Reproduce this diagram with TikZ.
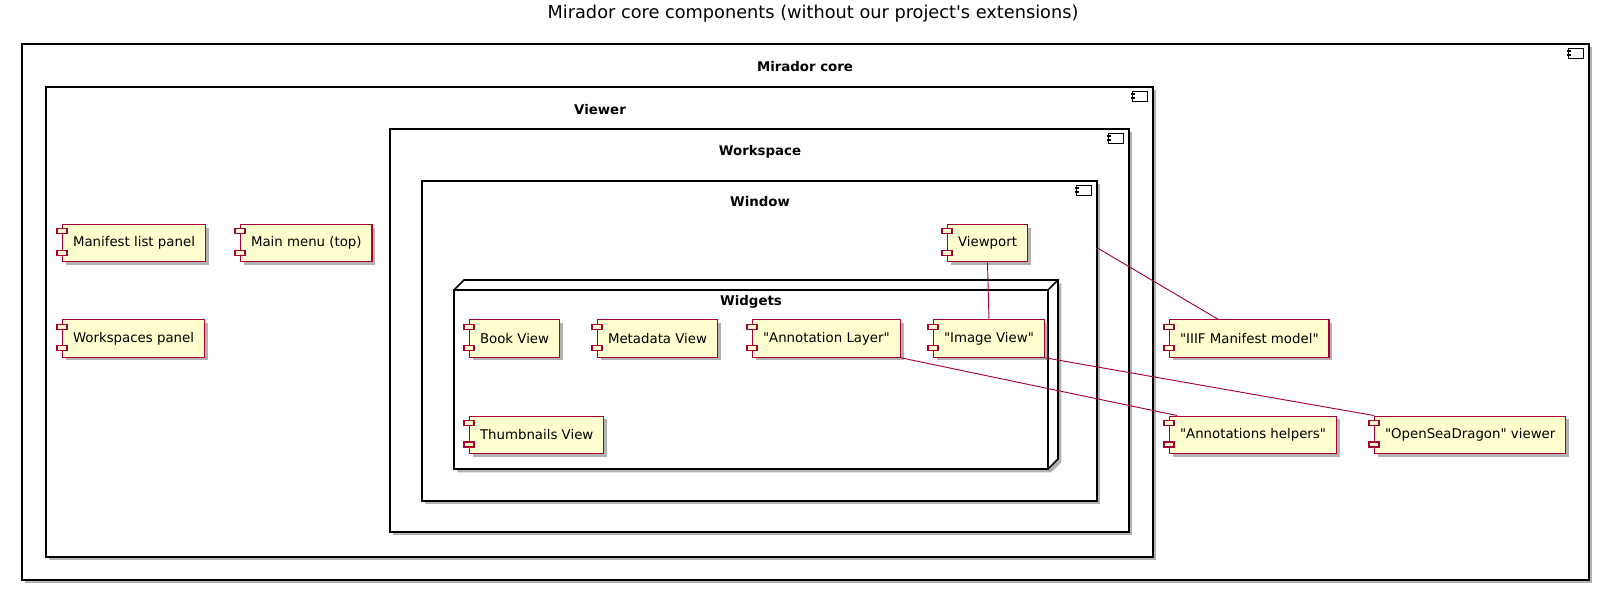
\documentclass[tikz,border=0pt]{standalone}
\usepackage{fontspec}
\setmainfont{DejaVu Sans}
\usetikzlibrary{calc, fit, shadows}

\definecolor{umlred}{HTML}{A80036}
\definecolor{umlyellow}{HTML}{FEFECE}

\tikzset{
  shadebox/.style={drop shadow={shadow xshift=2.5pt, shadow yshift=-2.5pt, opacity=0.5, fill=black!60}},
  container/.style={draw, line width=1.2pt, fill=white, inner sep=0pt, shadebox},
  boxicon/.style={draw, line width=0.9pt, fill=white},
  boxlabel/.style={font=\fontsize{10}{12}\selectfont\bfseries, inner sep=0pt},
  comp/.style={draw=umlred, fill=umlyellow, line width=0.9pt, anchor=west,
    minimum height=28pt, inner xsep=7.8pt, inner ysep=0pt,
    font=\fontsize{10}{12}\selectfont, shadebox},
  compicon/.style={draw=umlred, fill=umlyellow, line width=0.9pt},
  link/.style={umlred, line width=0.7pt}
}

\begin{document}
\begin{tikzpicture}[x=0.75pt, y=-0.75pt]
  \useasboundingbox (0,0) rectangle (1599,591);

  \node[font=\fontsize{13.3}{15}\selectfont] (title) at (813,14) {Mirador core components (without our project\textquotesingle s extensions)};

  % nested containers
  \node[container, fit={(22,44) (1589,580)}] (mirador) {};
  \node[boxlabel] (miradorlabel) at (805,67) {Mirador core};
  \node[container, fit={(46,87) (1153,557)}] (viewer) {};
  \node[boxlabel] (viewerlabel) at (600,110) {Viewer};
  \node[container, fit={(390,129) (1129,532)}] (workspace) {};
  \node[boxlabel] (workspacelabel) at (760,152) {Workspace};
  \node[container, fit={(422,181) (1097,501)}] (window) {};
  \node[boxlabel] (windowlabel) at (760,202) {Window};

  % component icon in the corner of each container
  \foreach \n in {mirador, viewer, workspace, window} {
    \draw[boxicon] ([shift={(-21,5)}]\n.north east) rectangle ++(15,10);
    \fill ([shift={(-23,7)}]\n.north east) rectangle ++(4,2);
    \fill ([shift={(-23,11)}]\n.north east) rectangle ++(4,2);
  }

  % widgets node (3d box)
  \draw[line width=1.2pt, fill=white, shadebox] (454,290) -- (464,280) -- (1058,280) -- (1058,459) -- (1048,469) -- (454,469) -- cycle;
  \node[draw, line width=1.2pt, fill=white, inner sep=0pt, fit={(454,290) (1048,469)}] (widgets) {};
  \draw[line width=1.2pt] (widgets.north east) -- ++(10,-10);
  \node[boxlabel] (widgetslabel) at (751,302) {Widgets};

  % components
  \node[comp] (manifest) at (62,243) {Manifest list panel};
  \node[comp] (mainmenu) at (240,243) {Main menu (top)};
  \node[comp] (workspaces) at (62,338.5) {Workspaces panel};
  \node[comp] (viewport) at (947,243) {Viewport};
  \node[comp] (bookview) at (469,338.5) {Book View};
  \node[comp] (metadata) at (597,338.5) {Metadata View};
  \node[comp] (annlayer) at (752,338.5) {\textquotedbl Annotation Layer\textquotedbl};
  \node[comp] (imageview) at (933,338.5) {\textquotedbl Image View\textquotedbl};
  \node[comp] (thumbs) at (469,434.8) {Thumbnails View};
  \node[comp] (iiif) at (1169,338.5) {\textquotedbl IIIF Manifest model\textquotedbl};
  \node[comp] (annhelp) at (1169,434.8) {\textquotedbl Annotations helpers\textquotedbl};
  \node[comp] (osd) at (1374,434.8) {\textquotedbl OpenSeaDragon\textquotedbl{} viewer};

  \foreach \n in {manifest, mainmenu, workspaces, viewport, bookview, metadata,
                  annlayer, imageview, thumbs, iiif, annhelp, osd} {
    \draw[compicon] ([shift={(-5,5)}]\n.north west) rectangle ++(10,5);
    \draw[compicon] ([shift={(-5,-12)}]\n.south west) rectangle ++(10,5);
  }

  % links
  \draw[link] (viewport.south) -- (imageview.north);
  \draw[link] ($(window.north east)+(0,68)$) -- ($(iiif.north west)+(49,0)$);
  \draw[link] (annlayer.south east) -- ($(annhelp.north west)+(8,0)$);
  \draw[link] (imageview.south east) -- (osd.north west);
\end{tikzpicture}
\end{document}
